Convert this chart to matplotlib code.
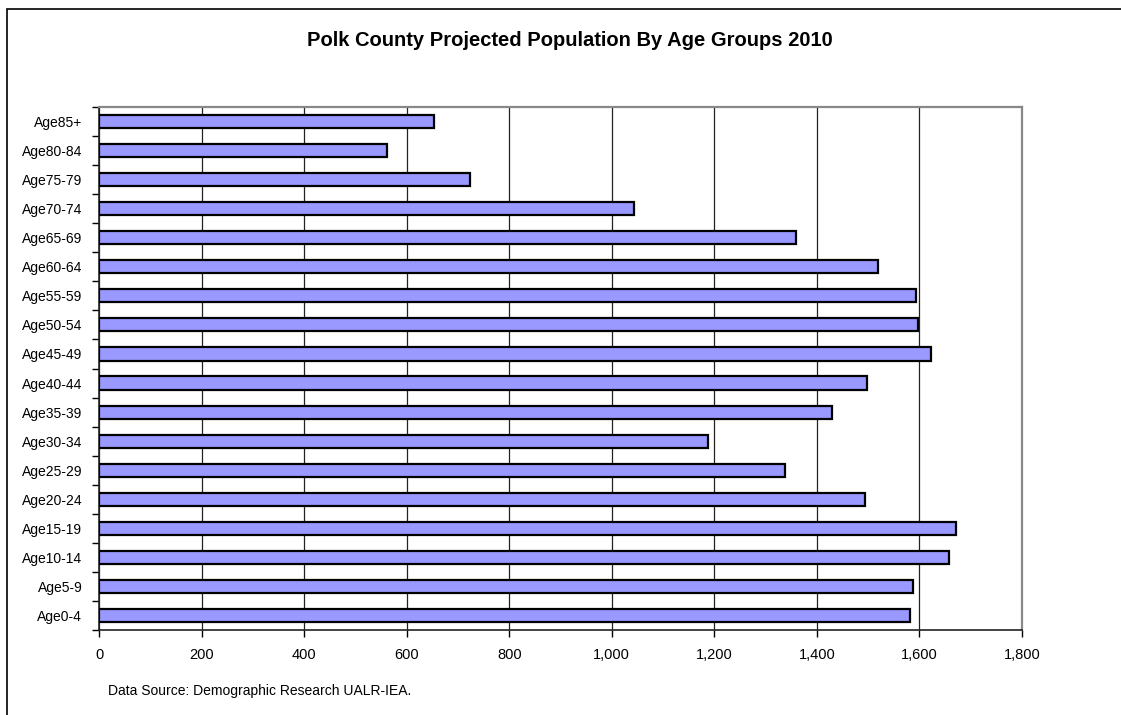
import numpy as np
import matplotlib.pyplot as plt
from matplotlib.ticker import FuncFormatter, MultipleLocator
from matplotlib.patches import Rectangle

plt.rcParams['font.family'] = ['Liberation Sans', 'DejaVu Sans']

age_groups = ['Age0-4', 'Age5-9', 'Age10-14', 'Age15-19', 'Age20-24', 'Age25-29',
              'Age30-34', 'Age35-39', 'Age40-44', 'Age45-49', 'Age50-54', 'Age55-59',
              'Age60-64', 'Age65-69', 'Age70-74', 'Age75-79', 'Age80-84', 'Age85+']
population = [1581, 1587, 1658, 1671, 1493, 1338, 1188, 1429, 1497, 1622,
              1598, 1593, 1520, 1359, 1043, 724, 562, 653]
x_ticks = np.arange(0, 1801, 200)

W, H = 1121, 715
fig = plt.figure(figsize=(W / 100, H / 100), dpi=100)
# plot area in pixels: left 99, right 1022, top 107, bottom 630
ax = fig.add_axes([99 / W, 1 - 630 / H, (1022 - 99) / W, (630 - 107) / H])

y = np.arange(len(age_groups))
ax.barh(y, population, height=0.45, color='#9999FF', edgecolor='black',
        linewidth=1.6, zorder=3)

ax.set_xlim(0, 1800)
ax.set_ylim(-0.5, len(age_groups) - 0.5)
ax.set_xticks(x_ticks)
ax.xaxis.set_major_formatter(FuncFormatter(lambda v, p: f'{int(v):,}'))
ax.set_yticks(y)
ax.set_yticklabels(age_groups)
ax.yaxis.set_minor_locator(MultipleLocator(1, offset=0.5))
ax.tick_params(axis='y', which='major', length=0, pad=12, labelsize=10)
ax.tick_params(axis='y', which='minor', length=5, width=1, color='black')
ax.tick_params(axis='x', length=5, width=1, pad=8, labelsize=10.5)

ax.grid(axis='x', color='#222222', linewidth=0.9, zorder=0)
for side in ['top', 'right']:
    ax.spines[side].set_color('#888888')
    ax.spines[side].set_linewidth(1.6)
for side in ['left', 'bottom']:
    ax.spines[side].set_color('#222222')
    ax.spines[side].set_linewidth(1.2)

fig.text(570 / W, 1 - 41 / H, 'Polk County Projected Population By Age Groups 2010',
         ha='center', va='center', fontsize=14.5, fontweight='bold')
fig.text(108 / W, 1 - 691 / H, 'Data Source: Demographic Research UALR-IEA.',
         ha='left', va='center', fontsize=10)

# outer chart border (runs off the right and bottom edges)
fig.patches.append(Rectangle((7 / W, -0.05), 1.2, 1 - 9 / H + 0.05,
                             transform=fig.transFigure, fill=False,
                             edgecolor='black', linewidth=1.2))

fig.savefig('out.png', dpi=100)
